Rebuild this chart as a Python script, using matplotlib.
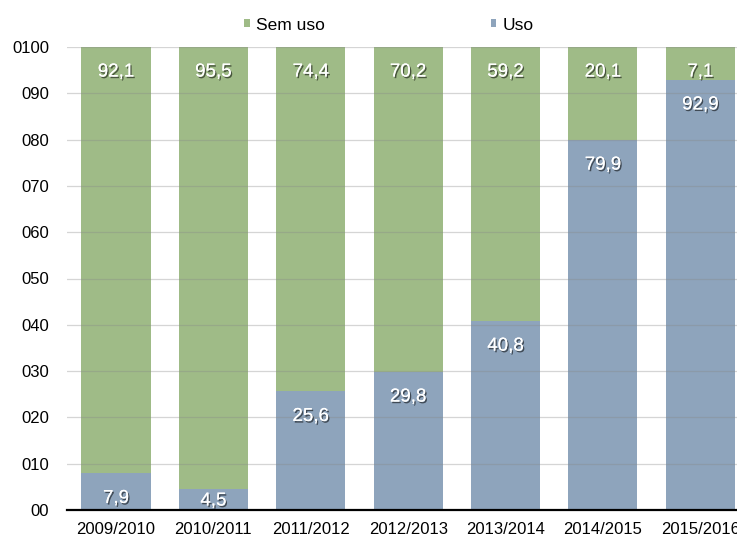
import numpy as np
import matplotlib
matplotlib.use("Agg")
import matplotlib.pyplot as plt
import matplotlib.patheffects as pe

plt.rcParams['font.family'] = ['Liberation Sans', 'DejaVu Sans']

# Dados
anos = ['2009/2010', '2010/2011', '2011/2012', '2012/2013', '2013/2014', '2014/2015', '2015/2016']
uso = [7.9, 4.5, 25.6, 29.8, 40.8, 79.9, 92.9]
sem_uso = [92.1, 95.5, 74.4, 70.2, 59.2, 20.1, 7.1]
yticks = [0, 10, 20, 30, 40, 50, 60, 70, 80, 90, 100]
ytick_labels = ['00', '010', '020', '030', '040', '050', '060', '070', '080', '090', '0100']

cor_uso = '#8ea4bc'
cor_sem = '#9fbb87'

fig = plt.figure(figsize=(7.37, 5.38), dpi=100)
ax = fig.add_axes([67/737, 28/538, 682/737, 463/538])

x = np.arange(len(anos))
w = 0.71
b1 = ax.bar(x, uso, w, color=cor_uso, label='Uso', zorder=1)
b2 = ax.bar(x, sem_uso, w, bottom=uso, color=cor_sem, label='Sem uso', zorder=1)

sombra = [pe.withSimplePatchShadow(offset=(1, -1.2), shadow_rgbFace='black', alpha=0.55), pe.Normal()]

# pixels por unidade no eixo y
px = 463 / 100.0

def rotulo(v, topo, xi):
    # rótulo ~25 px abaixo do topo do segmento, sem descer abaixo do eixo
    y = max(topo - 25 / px, 9 / px)
    ax.text(xi, y, f'{v:.1f}'.replace('.', ','), ha='center', va='center',
            color='white', fontsize=13.5, zorder=5, path_effects=sombra)

for i in range(len(anos)):
    rotulo(uso[i], uso[i], x[i])
    rotulo(sem_uso[i], uso[i] + sem_uso[i], x[i])

ax.set_xlim(-0.503, 6.5)
ax.set_ylim(0, 100)
ax.set_yticks(yticks)
ax.set_yticklabels(ytick_labels)
ax.set_xticks(x)
ax.set_xticklabels(anos)
ax.tick_params(axis='both', length=0, labelsize=12)
ax.tick_params(axis='y', pad=13)
ax.tick_params(axis='x', pad=9)

ax.yaxis.grid(True, color='#888888', alpha=0.35, lw=0.9, zorder=2)
ax.set_axisbelow(False)
for s in ['left', 'right', 'top']:
    ax.spines[s].set_visible(False)
ax.spines['bottom'].set_color('black')
ax.spines['bottom'].set_linewidth(1.6)
ax.spines['bottom'].set_zorder(4)

fig.legend(handles=[b2, b1], labels=['Sem uso', 'Uso'], loc='center',
           bbox_to_anchor=(389/737, 1 - 25/538), ncol=2, frameon=False,
           fontsize=12.5, handlelength=0.3, handleheight=0.3,
           handletextpad=0.35, columnspacing=9.6)

fig.savefig('out.png', dpi=100)
